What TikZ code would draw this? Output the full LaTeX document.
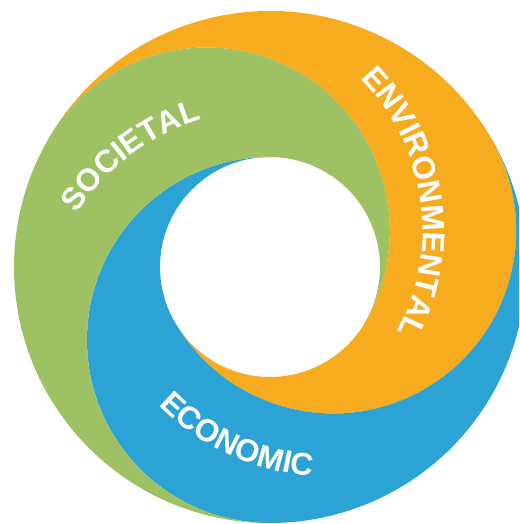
\documentclass[tikz,border=0pt]{standalone}
\usepackage{fontspec}
\setmainfont{Liberation Sans}
\usetikzlibrary{decorations.text}

\definecolor{societal}{HTML}{9DC163}
\definecolor{environmental}{HTML}{F7AB1F}
\definecolor{economic}{HTML}{2BA3D5}
\newcommand\ringfont{\fontsize{31.5}{31.5}\selectfont\bfseries}

\begin{document}
\begin{tikzpicture}[x=1pt,y=1pt]

\tikzset{ringtext/.style = {decorate, decoration={text along path, text align=center, text color=white, text={|\ringfont|#1}}}}
\useasboundingbox (-270,-257) rectangle (249,267);
\clip (-270,-257) rectangle (249,267);
%bands: outer r=256, hole r=110, swirl circles r=183 set off by 73
\foreach \a/\c in {150/environmental, 30/economic, -90/societal}
  \fill[\c] (\a:256) arc[start angle=\a, end angle=\a-120, radius=256]
    arc[start angle=\a-120, end angle=\a-300, radius=183]
    arc[start angle=\a+60, end angle=\a+180, radius=110]
    arc[start angle=\a-180, end angle=\a, radius=183] -- cycle;
%labels
\path[shift={(150:73)}, ringtext=ENVIRONMENTAL] (58.4:216) arc[start angle=58.4, end angle=-41.6, radius=216];
\path[shift={(270:73)}, ringtext=SOCIETAL] (167:231) arc[start angle=167, end angle=87, radius=231];
\path[shift={(30:73)}, ringtext=ECONOMIC] (205:247) arc[start angle=205, end angle=285, radius=247];

\end{tikzpicture}
\end{document}
